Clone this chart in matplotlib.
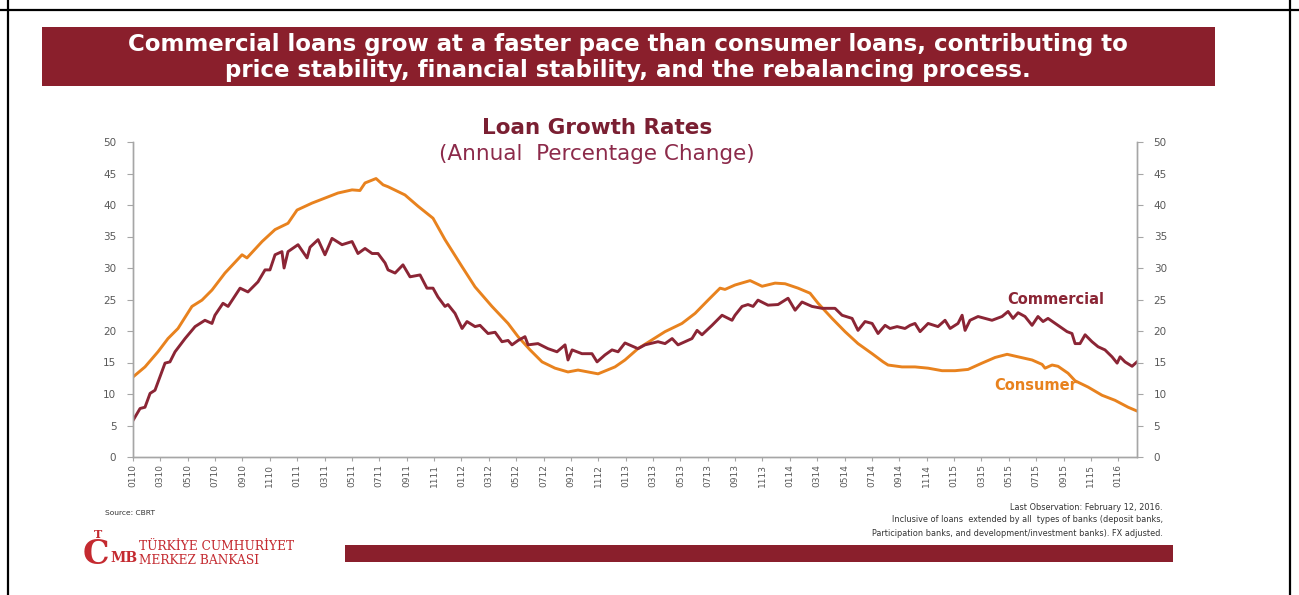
import matplotlib
matplotlib.use("Agg")
import matplotlib.pyplot as plt
from matplotlib.patches import Rectangle
from matplotlib.lines import Line2D
import numpy as np

# weekly growth series (decimal year, % yoy)
com_t = [2010.000, 2010.043, 2010.073, 2010.104, 2010.134, 2010.195, 2010.225, 2010.256,
         2010.317, 2010.378, 2010.438, 2010.481, 2010.499, 2010.548, 2010.579, 2010.652,
         2010.700, 2010.761, 2010.804, 2010.834, 2010.865, 2010.907, 2010.920, 2010.944,
         2011.005, 2011.060, 2011.078, 2011.127, 2011.169, 2011.212, 2011.273, 2011.334,
         2011.370, 2011.413, 2011.456, 2011.492, 2011.535, 2011.553, 2011.596, 2011.644,
         2011.687, 2011.748, 2011.790, 2011.827, 2011.857, 2011.900, 2011.918, 2011.961,
         2012.004, 2012.034, 2012.083, 2012.113, 2012.162, 2012.205, 2012.247, 2012.284,
         2012.308, 2012.345, 2012.387, 2012.406, 2012.466, 2012.527, 2012.582, 2012.631,
         2012.649, 2012.674, 2012.734, 2012.795, 2012.826, 2012.874, 2012.917, 2012.954,
         2012.996, 2013.075, 2013.118, 2013.197, 2013.240, 2013.283, 2013.319, 2013.404,
         2013.435, 2013.465, 2013.526, 2013.587, 2013.648, 2013.666, 2013.709, 2013.745,
         2013.776, 2013.806, 2013.867, 2013.928, 2013.989, 2014.032, 2014.074, 2014.135,
         2014.196, 2014.275, 2014.318, 2014.379, 2014.415, 2014.458, 2014.501, 2014.537,
         2014.580, 2014.610, 2014.653, 2014.701, 2014.732, 2014.762, 2014.793, 2014.842,
         2014.902, 2014.945, 2014.976, 2015.024, 2015.049, 2015.067, 2015.097, 2015.146,
         2015.231, 2015.292, 2015.329, 2015.359, 2015.390, 2015.432, 2015.475, 2015.511,
         2015.542, 2015.572, 2015.633, 2015.688, 2015.718, 2015.737, 2015.767, 2015.798,
         2015.840, 2015.877, 2015.919, 2015.962, 2015.993, 2016.011, 2016.041, 2016.084,
         2016.114]
com_v = [5.8, 7.7, 7.9, 10.1, 10.6, 14.9, 15.1, 16.7,
         18.8, 20.7, 21.7, 21.2, 22.5, 24.4, 23.9, 26.8,
         26.2, 27.8, 29.7, 29.7, 32.1, 32.6, 30.0, 32.6,
         33.7, 31.6, 33.3, 34.5, 32.1, 34.7, 33.7, 34.2,
         32.3, 33.1, 32.3, 32.3, 30.8, 29.7, 29.2, 30.5,
         28.6, 28.9, 26.8, 26.8, 25.4, 23.9, 24.2, 22.8,
         20.4, 21.5, 20.7, 20.9, 19.6, 19.8, 18.3, 18.5,
         17.8, 18.5, 19.1, 17.8, 18.0, 17.2, 16.7, 17.8,
         15.4, 17.0, 16.4, 16.4, 15.1, 16.2, 17.0, 16.7,
         18.1, 17.2, 17.8, 18.3, 18.0, 18.8, 17.8, 18.8,
         20.1, 19.4, 20.9, 22.5, 21.7, 22.5, 23.9, 24.2,
         23.9, 24.9, 24.1, 24.2, 25.2, 23.3, 24.6, 23.9,
         23.6, 23.6, 22.5, 22.0, 20.1, 21.5, 21.2, 19.6,
         20.9, 20.4, 20.7, 20.4, 20.9, 21.2, 19.9, 21.2,
         20.7, 21.7, 20.4, 21.2, 22.5, 20.1, 21.7, 22.3,
         21.7, 22.3, 23.1, 22.0, 22.9, 22.3, 20.9, 22.3,
         21.5, 22.0, 20.9, 19.9, 19.6, 18.0, 18.0, 19.4,
         18.3, 17.5, 17.0, 15.9, 14.9, 15.9, 15.1, 14.4,
         15.1]

con_t = [2010.000, 2010.073, 2010.152, 2010.213, 2010.274, 2010.359, 2010.420, 2010.481,
         2010.560, 2010.664, 2010.694, 2010.786, 2010.865, 2010.944, 2010.999, 2011.090,
         2011.169, 2011.248, 2011.334, 2011.382, 2011.413, 2011.480, 2011.523, 2011.553,
         2011.656, 2011.736, 2011.827, 2011.900, 2012.004, 2012.083, 2012.186, 2012.284,
         2012.345, 2012.418, 2012.491, 2012.570, 2012.649, 2012.710, 2012.771, 2012.832,
         2012.935, 2012.996, 2013.075, 2013.161, 2013.240, 2013.343, 2013.423, 2013.502,
         2013.575, 2013.605, 2013.666, 2013.758, 2013.831, 2013.910, 2013.971, 2014.050,
         2014.123, 2014.172, 2014.257, 2014.336, 2014.415, 2014.501, 2014.568, 2014.598,
         2014.683, 2014.762, 2014.842, 2014.927, 2015.006, 2015.085, 2015.170, 2015.250,
         2015.323, 2015.390, 2015.475, 2015.536, 2015.554, 2015.597, 2015.633, 2015.694,
         2015.737, 2015.816, 2015.901, 2015.980, 2016.060, 2016.114]
con_v = [12.7, 14.3, 16.7, 18.8, 20.4, 23.9, 24.9, 26.5,
         29.2, 32.1, 31.6, 34.2, 36.1, 37.1, 39.2, 40.3,
         41.1, 41.9, 42.4, 42.3, 43.5, 44.2, 43.2, 42.9,
         41.6, 39.8, 37.9, 34.5, 30.2, 27.0, 23.9, 21.2,
         19.1, 17.0, 15.1, 14.1, 13.5, 13.8, 13.5, 13.2,
         14.3, 15.4, 17.2, 18.6, 19.9, 21.2, 22.8, 24.9,
         26.8, 26.6, 27.3, 28.0, 27.1, 27.6, 27.5, 26.8,
         26.0, 24.4, 22.0, 19.9, 18.0, 16.4, 15.1, 14.6,
         14.3, 14.3, 14.1, 13.7, 13.7, 13.9, 14.9, 15.8,
         16.3, 15.9, 15.4, 14.7, 14.1, 14.6, 14.4, 13.3,
         12.1, 11.1, 9.8, 9.0, 7.9, 7.3]

tick_years = [2010, 2011, 2012, 2013, 2014, 2015, 2016]
tick_months = [1, 3, 5, 7, 9, 11]

RED = "#8a1f2c"
COM = "#8b2535"
CON = "#e8821e"
GRAY = "#595959"

fig = plt.figure(figsize=(12.99, 5.95), dpi=100)
W, H = 1299, 595

def fx(px):
    return px / W

def fy(py):
    return 1 - py / H

# slide frame
fig.add_artist(Line2D([0, 1], [fy(10), fy(10)], color="black", lw=1.6))
fig.add_artist(Line2D([fx(8), fx(8)], [0, 1], color="black", lw=1.6))
fig.add_artist(Line2D([fx(1290), fx(1290)], [0, 1], color="black", lw=1.6))

# headline banner
fig.add_artist(Rectangle((fx(42), fy(86)), fx(1215 - 42), (86 - 27) / H, color=RED, lw=0))
fig.text(fx(628), fy(45), "Commercial loans grow at a faster pace than consumer loans, contributing to",
         ha="center", va="center", color="white", fontsize=16.5, fontweight="bold")
fig.text(fx(628), fy(70), "price stability, financial stability, and the rebalancing process.",
         ha="center", va="center", color="white", fontsize=16.5, fontweight="bold")

# chart titles
fig.text(fx(597), fy(128), "Loan Growth Rates", ha="center", va="center", color="#7a1f32",
         fontsize=15.5, fontweight="bold")
fig.text(fx(597), fy(154), "(Annual  Percentage Change)", ha="center", va="center", color="#8c2a4a",
         fontsize=15.5)

ax = fig.add_axes([fx(133), fy(457), fx(1137 - 133), (457 - 142) / H])
ax.plot(con_t, con_v, color=CON, lw=2.1, solid_joinstyle="round")
ax.plot(com_t, com_v, color=COM, lw=2.1, solid_joinstyle="round")
ax.set_xlim(com_t[0], com_t[-1])
ax.set_ylim(0, 50)

ticks = []
labels = []
for y in tick_years:
    for m in tick_months:
        if y == 2016 and m > 1:
            break
        ticks.append(y + (m - 1) / 12)
        labels.append("%02d%02d" % (m, y % 100))
ax.set_xticks(ticks)
ax.set_xticklabels(labels, rotation=90, fontsize=6.5, color=GRAY)
ax.set_yticks(range(0, 51, 5))
ax.tick_params(axis="y", labelsize=7.5, colors=GRAY, length=4, color="#a6a6a6", pad=8)
ax.tick_params(axis="x", length=3, color="#a6a6a6", pad=2)

ax2 = ax.twinx()
ax2.set_ylim(0, 50)
ax2.set_yticks(range(0, 51, 5))
ax2.tick_params(axis="y", labelsize=7.5, colors=GRAY, length=4, color="#a6a6a6", pad=8)

for a in (ax, ax2):
    a.spines["top"].set_visible(False)
    for s in ("left", "right", "bottom"):
        a.spines[s].set_color("#a6a6a6")
        a.spines[s].set_linewidth(1.0)

ax.text(2015.62, 25.0, "Commercial", color=COM, fontsize=10.5, fontweight="bold",
        ha="center", va="center")
ax.text(2015.50, 11.4, "Consumer", color=CON, fontsize=10.5, fontweight="bold",
        ha="center", va="center")

# footnotes
fig.text(fx(105), fy(513), "Source: CBRT", fontsize=5.4, color="#333333", va="center")
notes = ["Last Observation: February 12, 2016.",
         "Inclusive of loans  extended by all  types of banks (deposit banks,",
         "Participation banks, and development/investment banks). FX adjusted."]
for i, t in enumerate(notes):
    fig.text(fx(1163), fy(507 + 13 * i), t, fontsize=5.9, color="#333333", ha="right", va="center")

# bottom bar
fig.add_artist(Rectangle((fx(345), fy(562)), fx(1173 - 345), (562 - 545) / H, color=RED, lw=0))

# logo
LOGO = "#c42a30"
fig.text(fx(96), fy(555), "C", fontsize=24, color=LOGO, family="DejaVu Serif",
         ha="center", va="center", fontweight="bold")
fig.text(fx(110), fy(558), "MB", fontsize=10, color=LOGO, family="DejaVu Serif",
         ha="left", va="center", fontweight="bold")
fig.text(fx(98), fy(534), "T", fontsize=8, color=LOGO, family="DejaVu Serif",
         ha="center", va="center", fontweight="bold")
fig.text(fx(139), fy(547), "TÜRKİYE CUMHURİYET", fontsize=8.8, color=LOGO,
         family="DejaVu Serif", va="center")
fig.text(fx(139), fy(560), "MERKEZ BANKASI", fontsize=8.8, color=LOGO,
         family="DejaVu Serif", va="center")

fig.savefig("out.png", dpi=100, facecolor="white")
